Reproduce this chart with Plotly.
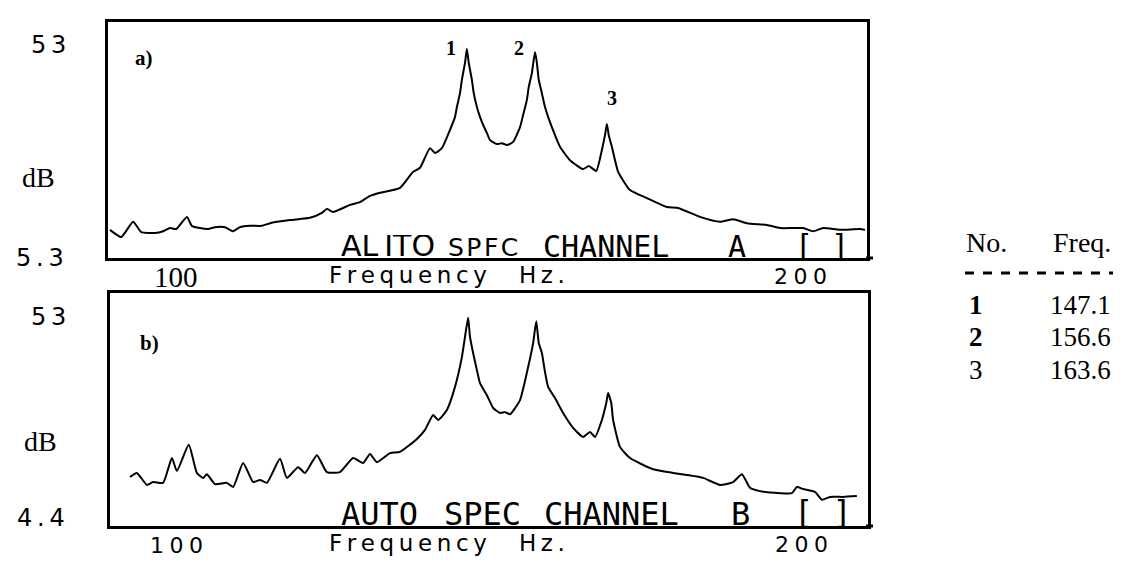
import plotly.graph_objects as go

# ---------------- data ----------------
freq_a = [89.6, 91.4, 93.3, 94.6, 96.8, 98.1, 99.2, 100.2, 101.9, 102.7, 104.0, 105.3, 106.4, 108.0, 109.3,
          110.4, 112.0, 113.9, 115.2, 118.4, 121.6, 123.5, 124.3, 125.3, 128.0, 129.6, 131.2, 132.8, 136.0,
          138.1, 139.2, 140.8, 141.6, 142.7, 144.0, 144.8, 145.1, 145.6, 145.9, 146.4, 146.7, 147.0, 147.5,
          147.8, 148.3, 148.8, 149.3, 149.9, 150.4, 151.5, 152.3, 153.1, 154.1, 155.2, 155.7, 156.3, 156.6,
          157.1, 157.6, 157.9, 158.2, 158.7, 159.2, 159.7, 160.3, 161.6, 163.2, 165.3, 166.2, 167.4, 168.3,
          168.8, 169.1, 169.4, 169.9, 170.4, 170.9, 172.8, 175.5, 178.7, 180.5, 184.0, 187.2, 189.3, 191.5,
          194.7, 196.8, 200.5, 202.1, 203.7, 206.4, 209.6, 210.4]
db_a = [11.6, 10.0, 13.4, 11.1, 10.9, 11.3, 12.0, 11.8, 14.5, 12.5, 12.0, 11.8, 12.2, 12.2, 11.3,
        12.2, 12.5, 12.5, 13.1, 13.8, 14.3, 15.4, 16.3, 15.6, 17.2, 17.8, 19.2, 19.9, 21.0,
        24.6, 25.5, 29.9, 28.8, 29.9, 34.0, 36.9, 39.1, 42.2, 45.2, 49.0, 52.1, 49.0, 45.2,
        42.2, 39.1, 36.9, 35.1, 33.3, 31.7, 30.8, 31.0, 30.6, 31.3, 34.6, 37.3, 40.7, 43.6,
        46.7, 51.4, 49.0, 45.2, 42.2, 39.1, 36.9, 34.6, 30.2, 27.2, 25.2, 25.9, 24.8, 29.5,
        32.8, 35.3, 32.8, 30.2, 27.2, 24.6, 20.5, 18.7, 16.7, 16.5, 14.5, 13.4, 14.0, 13.1,
        12.7, 12.0, 12.0, 11.3, 12.0, 11.6, 11.8, 11.6]

freq_b = [92.8, 93.9, 95.5, 96.5, 98.1, 99.5, 100.3, 102.2, 103.5, 104.5, 105.1, 106.4, 108.3, 109.3, 110.9,
          112.5, 113.6, 114.7, 116.8, 117.9, 119.7, 120.8, 122.7, 124.3, 126.4, 128.5, 130.1, 131.2, 132.3,
          134.4, 136.0, 138.7, 140.0, 141.3, 142.1, 143.5, 144.8, 145.9, 146.4, 146.9, 147.2, 147.7, 148.3,
          148.8, 149.9, 150.9, 152.0, 152.8, 153.6, 155.2, 156.5, 157.3, 157.8, 158.2, 158.7, 159.2, 159.7,
          160.8, 162.1, 163.7, 165.3, 166.4, 167.2, 168.3, 169.0, 169.3, 169.8, 170.1, 171.2, 172.8, 176.5,
          179.7, 181.9, 184.5, 187.2, 189.3, 190.7, 192.0, 193.6, 196.8, 198.7, 199.5, 200.5, 202.4, 203.5,
          204.8, 206.9, 209.1]
db_b = [14.3, 15.3, 12.4, 13.1, 12.9, 18.9, 15.8, 22.1, 15.3, 14.1, 15.0, 12.6, 12.9, 11.9, 17.7,
        13.1, 13.6, 12.9, 18.7, 14.1, 16.7, 15.3, 19.6, 15.5, 15.5, 18.9, 17.7, 19.9, 17.9,
        20.1, 20.4, 23.5, 25.7, 29.3, 28.1, 30.5, 36.1, 43.3, 48.2, 52.8, 48.2, 44.3, 40.2,
        37.0, 34.1, 31.0, 29.8, 30.0, 29.5, 32.9, 40.9, 46.7, 52.0, 46.7, 44.3, 39.7, 36.1,
        33.4, 29.8, 26.2, 24.0, 25.2, 24.0, 28.1, 32.2, 34.6, 32.2, 28.1, 21.6, 18.9, 16.2,
        15.3, 14.8, 14.1, 12.4, 13.1, 15.0, 11.7, 10.9, 10.4, 10.4, 11.9, 11.4, 10.7, 8.8,
        9.5, 9.5, 9.7]

peak_no = ["1", "2", "3"]
peak_freq = ["147.1", "156.6", "163.6"]
peak_label_hz = [144.2, 155.0, 169.9]
peak_label_db = [52.3, 52.3, 41.1]

ytick_a = [53, 5.3]
ytick_b = [53, 4.4]

# ---------------- layout helpers ----------------
W, H = 1142, 569
def px(x):
    return x / W
def py(y):
    return 1 - y / H

SERIF = "Liberation Serif, Times New Roman, serif"
SANS = "DejaVu Sans, sans-serif"
MONO = "DejaVu Sans Mono, monospace"
TS = "\u2009"   # thin space
FS = "\u2005"   # four-per-em space
HS = "\u200a"   # hair space

def spaced(s, sep):
    return sep.join(list(s))

fig = go.Figure()
line_style = dict(color="black", width=2, shape="spline", smoothing=0.5)
fig.add_trace(go.Scatter(x=freq_a, y=db_a, mode="lines", line=line_style,
                         xaxis="x", yaxis="y", hoverinfo="skip"))
fig.add_trace(go.Scatter(x=freq_b, y=db_b, mode="lines", line=line_style,
                         xaxis="x2", yaxis="y2", hoverinfo="skip"))

ax_common = dict(showline=True, mirror=True, linecolor="black", linewidth=3,
                 showgrid=False, zeroline=False, ticks="", showticklabels=False, fixedrange=True)

anns = []
def ann(text, x, y, size, family, xanchor="center", yanchor="middle", xref="paper", yref="paper",
        height=None):
    d = dict(text=text, x=x, y=y, xref=xref, yref=yref, xanchor=xanchor, yanchor=yanchor,
             showarrow=False, font=dict(size=size, family=family, color="black"))
    if height is not None:
        d["height"] = height
        d["borderpad"] = 0
        d["valign"] = "middle"
    anns.append(d)

# --- panel a ---
ann(spaced(str(ytick_a[0]), TS), px(68), ytick_a[0], 24, SANS, xanchor="right", yref="y")
ann(spaced(str(ytick_a[1]), TS), px(66), ytick_a[1], 24, SANS, xanchor="right", yref="y")
ann("dB", px(38), py(177), 28, SERIF)
ann("100", px(176), py(277), 29, SERIF)
ann(spaced("Frequency", TS) + TS + "\u2003" + TS + spaced("Hz.", TS), px(327), py(275), 23, SANS, xanchor="left")
ann(spaced("200", FS), px(800), py(276), 22, SANS)
ann("<b>a)</b>", px(144), py(58), 21, SERIF)
ann("AL" + TS + "ITO", px(340), py(245), 30, SANS, xanchor="left", height=21)
ann(spaced("SPFC", HS), px(447), py(247), 25, SANS, xanchor="left", height=18)
ann("CHANNEL", px(542), py(246), 30, MONO, xanchor="left", height=22)
ann("A", px(737), py(246), 30, MONO, height=22)
ann("[ ]", px(822), py(245), 30, MONO, height=27)
for t, xh, yd in zip(peak_no, peak_label_hz, peak_label_db):
    ann("<b>" + t + "</b>", xh, yd, 20, SERIF, xref="x", yref="y")

# --- panel b ---
ann(spaced(str(ytick_b[0]), TS), px(68), ytick_b[0], 24, SANS, xanchor="right", yref="y2")
ann(spaced(str(ytick_b[1]), TS), px(67), ytick_b[1], 24, SANS, xanchor="right", yref="y2")
ann("dB", px(41), py(442), 28, SERIF)
ann(spaced("100", FS), px(176), py(545), 22, SANS)
ann(spaced("Frequency", TS) + TS + "\u2003" + TS + spaced("Hz.", TS), px(327), py(543), 23, SANS, xanchor="left")
ann(spaced("200", FS), px(801), py(544), 22, SANS)
ann("<b>b)</b>", px(149), py(343), 21, SERIF)
ann("AUTO", px(340), py(513), 32, MONO, xanchor="left", height=23)
ann("SPEC", px(443), py(513), 32, MONO, xanchor="left", height=23)
ann("CHANNEL", px(543), py(513), 32, MONO, xanchor="left", height=23)
ann("B", px(740), py(513), 32, MONO, height=23)
ann("[ ]", px(823), py(512), 32, MONO, height=28)

# --- table ---
ann("No.", px(986), py(242), 28, SERIF)
ann("Freq.", px(1082), py(242), 28, SERIF)
row_y = [305, 337, 370]
for i, (n, f) in enumerate(zip(peak_no, peak_freq)):
    label = "<b>" + n + "</b>" if i < 2 else n
    ann(label, px(967), py(row_y[i]), 27, SERIF, xanchor="left")
    ann(f, px(1113), py(row_y[i]), 27, SERIF, xanchor="right")

shapes = [
    dict(type="line", xref="paper", yref="paper", x0=px(965), x1=px(1113), y0=py(273), y1=py(273),
         line=dict(color="black", width=3, dash="dash")),
    dict(type="line", xref="paper", yref="paper", x0=px(866), x1=px(873), y0=py(258), y1=py(258),
         line=dict(color="black", width=3)),
    dict(type="line", xref="paper", yref="paper", x0=px(866), x1=px(873), y0=py(526), y1=py(526),
         line=dict(color="black", width=3)),
]

fig.update_layout(
    width=W, height=H, margin=dict(l=0, r=0, t=0, b=0),
    paper_bgcolor="white", plot_bgcolor="white", showlegend=False,
    xaxis=dict(domain=[px(108), px(867)], range=[89.28, 210.72], anchor="y", **ax_common),
    yaxis=dict(domain=[py(258), py(22)], range=[5.3, 58.14], anchor="x", **ax_common),
    xaxis2=dict(domain=[px(110), px(868)], range=[89.6, 210.88], anchor="y2", **ax_common),
    yaxis2=dict(domain=[py(526), py(293)], range=[2.47, 58.8], anchor="x2", **ax_common),
    annotations=anns, shapes=shapes,
)

fig.write_html("out.html")
